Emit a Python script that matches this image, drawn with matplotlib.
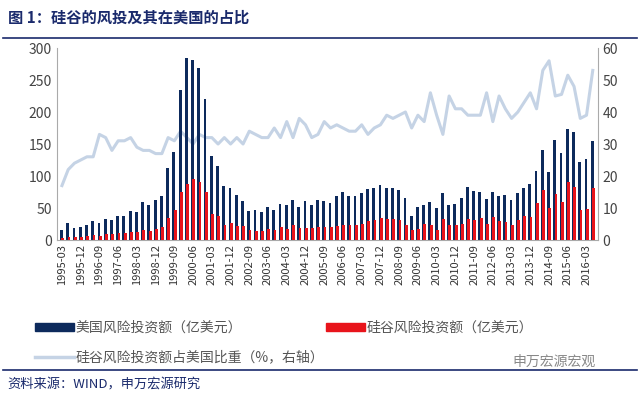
import matplotlib
matplotlib.use("Agg")
import matplotlib.pyplot as plt
import numpy as np
from matplotlib.lines import Line2D
from matplotlib.patches import Patch

plt.rcParams["font.family"] = ["Noto Sans CJK SC", "DejaVu Sans"]

# quarterly 1995Q1 .. 2016Q2
us_vc = [16, 26, 18, 20, 24, 30, 26, 33, 31, 38, 38, 46, 43, 59, 55, 62, 68, 113, 137, 235,
         285, 282, 268, 220, 131, 115, 84, 82, 70, 61, 46, 47, 44, 51, 47, 57, 55, 63, 51, 61,
         54, 62, 61, 58, 68, 75, 69, 68, 74, 79, 82, 86, 82, 81, 78, 65, 38, 51, 54, 59,
         50, 73, 55, 57, 66, 83, 77, 75, 64, 75, 68, 71, 62, 74, 82, 87, 108, 141, 106, 157,
         136, 174, 168, 122, 127, 154]
sv_vc = [3, 5, 4, 5, 6, 8, 7, 9, 9, 11, 11, 12, 12, 15, 14, 17, 20, 35, 47, 75,
         88, 95, 90, 75, 40, 38, 24, 26, 22, 22, 16, 14, 14, 17, 16, 20, 17, 23, 18, 18,
         19, 20, 20, 20, 22, 24, 24, 23, 25, 30, 31, 35, 33, 33, 32, 24, 16, 17, 25, 24,
         16, 33, 24, 24, 25, 33, 32, 34, 25, 36, 30, 28, 24, 32, 37, 36, 58, 78, 50, 72,
         60, 91, 83, 47, 48, 82]
ratio = [17, 22, 24, 25, 26, 26, 33, 32, 28, 31, 31, 32, 29, 28, 28, 27, 27, 32, 31, 34,
         32, 30, 33, 32, 32, 30, 32, 30, 32, 30, 34, 33, 32, 32, 35, 32, 37, 32, 38, 36,
         32, 33, 37, 35, 36, 35, 34, 34, 36, 33, 35, 36, 39, 38, 39, 40, 35, 39, 37, 46,
         39, 33, 45, 41, 41, 39, 39, 39, 46, 37, 45, 41, 38, 40, 43, 46, 41, 53, 56, 45,
         45.5, 51.5, 48, 38, 39, 53]

labels = []
y, q = 1995, 1
for i in range(86):
    labels.append(f"{y}-{q*3:02d}")
    q += 1
    if q > 4:
        q = 1
        y += 1

navy = "#0d2a5c"
red = "#e8141b"
lightblue = "#c5d3e5"

fig = plt.figure(figsize=(6.4, 4.0), dpi=100)
ax = fig.add_axes([0.089, 0.40, 0.845, 0.48])
x = np.arange(len(us_vc))
ax.bar(x - 0.08, us_vc, width=0.45, color=navy, zorder=2)
ax.bar(x + 0.12, sv_vc, width=0.45, color=red, zorder=3)
ax.set_ylim(0, 300)
ax.set_yticks(range(0, 301, 50))
ax.set_xlim(-0.8, len(x) - 0.2)
ax.set_xticks(x[::3])
ax.set_xticklabels(labels[::3], rotation=90, fontsize=8, color="#333333")
ax.tick_params(axis="y", labelsize=10, colors="#444444", length=0)
ax.tick_params(axis="x", length=0, pad=3)
for s in ["top", "right"]:
    ax.spines[s].set_visible(False)
ax.spines["left"].set_color("#aaaaaa")
ax.spines["bottom"].set_color("#aaaaaa")

ax2 = ax.twinx()
ax2.plot(x, ratio, color=lightblue, lw=2.2, zorder=1)
ax2.set_ylim(0, 60)
ax2.set_yticks(range(0, 61, 10))
ax2.tick_params(axis="y", labelsize=10, colors="#444444", length=0)
for s in ["top", "left", "bottom"]:
    ax2.spines[s].set_visible(False)
ax2.spines["right"].set_color("#aaaaaa")
ax.set_zorder(ax2.get_zorder() + 1)
ax.patch.set_visible(False)

# legend
fig.legend(handles=[Patch(color=navy, label="美国风险投资额（亿美元）")], loc="upper left",
           bbox_to_anchor=(0.035, 0.23), frameon=False, fontsize=10, handlelength=2.8,
           handleheight=0.5, handletextpad=0.1, labelcolor="#555555")
fig.legend(handles=[Patch(color=red, label="硅谷风险投资额（亿美元）")], loc="upper left",
           bbox_to_anchor=(0.49, 0.23), frameon=False, fontsize=10, handlelength=2.8,
           handleheight=0.5, handletextpad=0.1, labelcolor="#555555")
fig.legend(handles=[Line2D([], [], color=lightblue, lw=2.5, label="硅谷风险投资额占美国比重（%，右轴）")],
           loc="upper left", bbox_to_anchor=(0.035, 0.155), frameon=False, fontsize=10,
           handlelength=2.8, handletextpad=0.1, labelcolor="#555555")

fig.text(0.012, 0.975, "图 1：硅谷的风投及其在美国的占比", fontsize=11, fontweight="bold",
         color="#1a2a6c", va="top")
fig.add_artist(Line2D([0.005, 0.995], [0.905, 0.905], color="#1a2a6c", lw=1.2))
fig.add_artist(Line2D([0.005, 0.995], [0.075, 0.075], color="#1a2a6c", lw=1.2))
fig.text(0.80, 0.078, "申万宏源宏观", fontsize=10, color="#888888", va="bottom")
fig.text(0.012, 0.055, "资料来源：WIND，申万宏源研究", fontsize=9.5, color="#1a2a6c", va="top")

fig.savefig("out.png", dpi=100)
